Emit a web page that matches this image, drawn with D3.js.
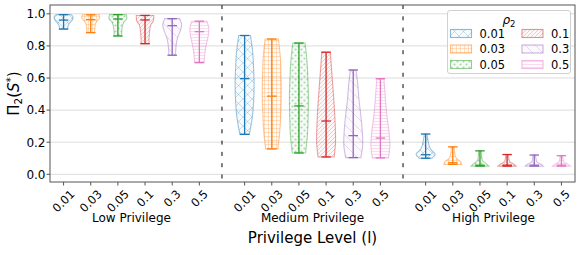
<!DOCTYPE html>
<html><head><meta charset="utf-8">
<script src="https://cdn.jsdelivr.net/npm/d3@7/dist/d3.min.js"></script>
<style>
html,body{margin:0;padding:0;background:#fff;}
text{font-family:"DejaVu Sans",sans-serif;fill:#000;}
</style></head>
<body><svg id="c" width="581" height="255"></svg>
<script>
// ---------- data ----------
const rhoLabels = ["0.01","0.03","0.05","0.1","0.3","0.5"];
const groupLabels = ["Low Privilege","Medium Privilege","High Privilege"];
const yTicks = [0.0,0.2,0.4,0.6,0.8,1.0];
const colors = ["#1f77b4","#ff7f0e","#2ca02c","#d62728","#9467bd","#e377c2"];
// per group, per rho
const minVals = [
  [0.905,0.883,0.862,0.814,0.742,0.696],
  [0.249,0.158,0.133,0.108,0.104,0.102],
  [0.100,0.062,0.051,0.051,0.051,0.051]];
const medVals = [
  [0.961,0.964,0.968,0.962,0.926,0.889],
  [0.596,0.487,0.426,0.332,0.241,0.226],
  [0.122,0.072,0.057,0.057,0.057,0.057]];
const maxVals = [
  [0.995,0.994,0.995,0.990,0.970,0.954],
  [0.865,0.843,0.818,0.761,0.650,0.596],
  [0.251,0.171,0.146,0.123,0.120,0.116]];
// relative widths sampled evenly from min (first) to max (last)
const shapeLow = [
  [0.40,0.45,0.55,0.75,0.95,1.00,0.78],
  [0.40,0.42,0.45,0.50,0.70,0.95,0.88],
  [0.38,0.40,0.42,0.50,0.65,0.95,0.88],
  [0.42,0.42,0.45,0.50,0.60,0.90,0.92],
  [0.35,0.38,0.45,0.60,0.85,1.00,0.78],
  [0.50,0.55,0.65,0.80,0.95,1.00,0.78]];
const shapeMed = [
  [0.50,0.80,0.95,1.00,0.95,0.85,0.62],
  [0.65,0.85,0.95,1.00,0.97,0.90,0.70],
  [0.70,0.90,0.97,1.00,0.95,0.85,0.65],
  [0.85,1.00,0.95,0.85,0.72,0.58,0.45],
  [0.80,1.00,0.93,0.78,0.60,0.48,0.30],
  [0.85,1.00,0.90,0.72,0.58,0.48,0.37]];
const shapeHigh = [
  [0.65,1.00,0.60,0.38,0.28,0.20,0.15],
  [0.95,0.80,0.40,0.25,0.20,0.17,0.15],
  [0.95,0.65,0.30,0.20,0.17,0.15,0.13],
  [0.95,0.70,0.35,0.22,0.18,0.15,0.13],
  [0.95,0.70,0.35,0.22,0.18,0.15,0.13],
  [0.95,0.70,0.35,0.22,0.18,0.15,0.13]];
const shapes = [shapeLow, shapeMed, shapeHigh];

// ---------- layout ----------
const svg = d3.select("#c");
const L=50, R=575, T=5, B=182;
const x = d3.scaleLinear().domain([-0.45,2.45]).range([L,R]);
const y = d3.scaleLinear().domain([-0.048,1.055]).range([B,T]);
const step = 0.15, vw = 0.105;
const pos = (g,i)=> g + (i-2.5)*step;

// patterns
const defs = svg.append("defs");
function pat(id, size, build){
  const p = defs.append("pattern").attr("id",id).attr("patternUnits","userSpaceOnUse")
    .attr("width",size).attr("height",size);
  build(p);
}
const hOp = 0.3, hW = 0.75;
pat("h0",9,p=>p.append("path").attr("d","M0,0L9,9M0,9L9,0").attr("stroke",colors[0]).attr("stroke-opacity",hOp).attr("stroke-width",hW).attr("fill","none"));
pat("h1",4,p=>p.append("path").attr("d","M0,0.5H4M0.5,0V4").attr("stroke",colors[1]).attr("stroke-opacity",hOp).attr("stroke-width",hW).attr("fill","none"));
pat("h2",6,p=>{p.append("circle").attr("cx",1.5).attr("cy",1.5).attr("r",1.1).attr("fill",colors[2]).attr("fill-opacity",0.38);
               p.append("circle").attr("cx",4.5).attr("cy",4.5).attr("r",1.1).attr("fill",colors[2]).attr("fill-opacity",0.38);});
pat("h3",4,p=>p.append("path").attr("d","M0,4L4,0M-1,1L1,-1M3,5L5,3").attr("stroke",colors[3]).attr("stroke-opacity",hOp).attr("stroke-width",hW).attr("fill","none"));
pat("h4",10,p=>p.append("path").attr("d","M0,0L10,10M-1,9L1,11M9,-1L11,1").attr("stroke",colors[4]).attr("stroke-opacity",hOp).attr("stroke-width",hW).attr("fill","none"));
pat("h5",3,p=>p.append("path").attr("d","M0,1.5H3").attr("stroke",colors[5]).attr("stroke-opacity",hOp).attr("stroke-width",hW).attr("fill","none"));

// grid
svg.append("g").selectAll("line").data(yTicks).join("line")
  .attr("x1",L).attr("x2",R).attr("y1",d=>y(d)).attr("y2",d=>y(d))
  .attr("stroke","#dcdcdc").attr("stroke-width",1);

// separators
[0.5,1.5].forEach(v=>{
  svg.append("line").attr("x1",x(v)).attr("x2",x(v)).attr("y1",T).attr("y2",B)
    .attr("stroke","#000").attr("stroke-width",1).attr("stroke-dasharray","4,7.3");
});

// violins
const halfPx = (x(vw)-x(0))/2;
const area = d3.area().curve(d3.curveMonotoneY)
  .y(d=>y(d.v)).x0(d=>d.c - d.w*halfPx).x1(d=>d.c + d.w*halfPx);
for(let g=0; g<3; g++){
  for(let i=0; i<6; i++){
    const c = x(pos(g,i));
    const prof = shapes[g][i];
    const n = prof.length;
    const pts = prof.map((w,k)=>({v: minVals[g][i] + (maxVals[g][i]-minVals[g][i])*k/(n-1), w, c}));
    const gg = svg.append("g");
    gg.append("path").attr("d",area(pts)).attr("fill",colors[i]).attr("fill-opacity",0.04);
    gg.append("path").attr("d",area(pts)).attr("fill",`url(#h${i})`)
      .attr("stroke",colors[i]).attr("stroke-opacity",0.42).attr("stroke-width",1.1);
    const cap = halfPx*0.5;
    gg.append("line").attr("x1",c).attr("x2",c).attr("y1",y(minVals[g][i])).attr("y2",y(maxVals[g][i]))
      .attr("stroke",colors[i]).attr("stroke-width",1.3);
    [minVals[g][i],maxVals[g][i],medVals[g][i]].forEach(v=>{
      gg.append("line").attr("x1",c-cap).attr("x2",c+cap).attr("y1",y(v)).attr("y2",y(v))
        .attr("stroke",colors[i]).attr("stroke-width",1.3);
    });
  }
}

// frame
svg.append("rect").attr("x",L).attr("y",T).attr("width",R-L).attr("height",B-T)
  .attr("fill","none").attr("stroke","#555").attr("stroke-width",1);

// y axis
const yAxis = svg.append("g");
yTicks.forEach(t=>{
  yAxis.append("line").attr("x1",L-3.5).attr("x2",L).attr("y1",y(t)).attr("y2",y(t)).attr("stroke","#555");
  yAxis.append("text").attr("x",L-4.5).attr("y",y(t)).attr("dy","0.36em").attr("text-anchor","end")
    .attr("font-size",12).text(d3.format(".1f")(t));
});

// x axis ticks
const xAxis = svg.append("g");
for(let g=0; g<3; g++){
  for(let i=0;i<6;i++){
    const c = x(pos(g,i));
    xAxis.append("line").attr("x1",c).attr("x2",c).attr("y1",B).attr("y2",B+3.5).attr("stroke","#555");
    const t = xAxis.append("text").attr("font-size",11.5).attr("text-anchor","middle")
      .attr("dominant-baseline","central").text(rhoLabels[i]);
    const w = t.node().getComputedTextLength();
    const h = 8.5;
    const cy = B + 7 + (w+h)/(2*Math.SQRT2);
    t.attr("transform",`translate(${c},${cy}) rotate(-45)`);
  }
  svg.append("text").attr("x",x(g)).attr("y",221.5).attr("text-anchor","middle")
    .attr("font-size",12).text(groupLabels[g]);
}

// axis titles
svg.append("text").attr("x",x(1)).attr("y",243).attr("text-anchor","middle")
  .attr("font-size",15).text("Privilege Level (l)");
const yl = svg.append("text").attr("transform",`translate(19,${(T+B)/2}) rotate(-90)`)
  .attr("text-anchor","middle").attr("font-size",15);
yl.append("tspan").text("Π");
yl.append("tspan").attr("font-size",10.5).attr("dy",3).text("2");
yl.append("tspan").attr("dy",-3).text("(");
yl.append("tspan").attr("font-style","italic").text("S");
yl.append("tspan").attr("font-size",10.5).attr("dy",-5).text("*");
yl.append("tspan").attr("dy",5).text(")");

// legend
const lg = svg.append("g");
lg.append("rect").attr("x",447.5).attr("y",10.5).attr("width",123).attr("height",63).attr("rx",2.5)
  .attr("fill","#fff").attr("fill-opacity",0.85).attr("stroke","#d0d0d0").attr("stroke-width",1);
const lt = lg.append("text").attr("x",509).attr("y",24).attr("text-anchor","middle").attr("font-size",12);
lt.append("tspan").attr("font-style","italic").text("ρ");
lt.append("tspan").attr("font-size",8.5).attr("dy",2.5).text("2");
const rowsY = [33.5,49,64.5];
const colX = [450.5,522];
rhoLabels.forEach((lab,i)=>{
  const cx = colX[Math.floor(i/3)], cy = rowsY[i%3];
  lg.append("rect").attr("x",cx).attr("y",cy-4).attr("width",21).attr("height",8)
    .attr("fill",colors[i]).attr("fill-opacity",0.04);
  lg.append("rect").attr("x",cx).attr("y",cy-4).attr("width",21).attr("height",8)
    .attr("fill",`url(#h${i})`).attr("stroke",colors[i]).attr("stroke-opacity",0.5).attr("stroke-width",1.1);
  lg.append("text").attr("x",cx+29).attr("y",cy).attr("dy","0.36em").attr("font-size",11.5).text(lab);
});
</script></body></html>
